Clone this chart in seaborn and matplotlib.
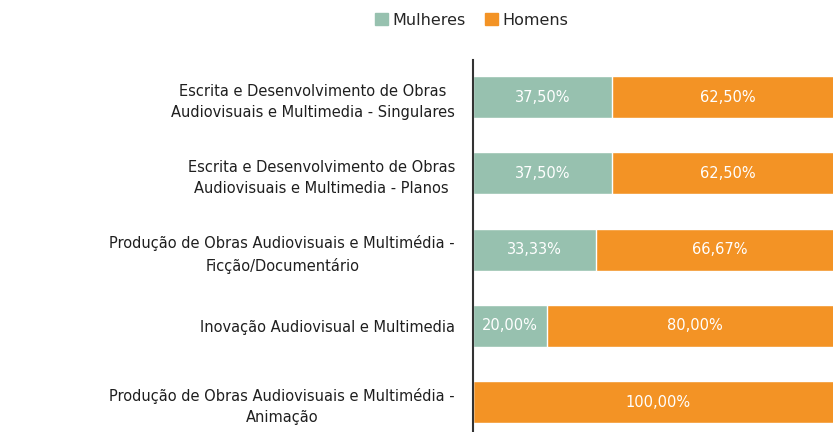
import pandas as pd
import matplotlib.pyplot as plt
import seaborn as sns
from matplotlib.patches import Patch

# ==============================
# Dados
# ==============================
categorias = [
    "Escrita e Desenvolvimento de Obras\nAudiovisuais e Multimedia - Singulares",
    "Escrita e Desenvolvimento de Obras\nAudiovisuais e Multimedia - Planos",
    "Produção de Obras Audiovisuais e Multimédia -\nFicção/Documentário",
    "Inovação Audiovisual e Multimedia",
    "Produção de Obras Audiovisuais e Multimédia -\nAnimação",
]
mulheres = [37.50, 37.50, 33.33, 20.00, 0.00]
homens = [62.50, 62.50, 66.67, 80.00, 100.00]

cor_mulheres = "#97C1AF"
cor_homens = "#F39325"

df = pd.DataFrame({"Categoria": categorias, "Mulheres": mulheres, "Homens": homens})
df["Total"] = df["Mulheres"] + df["Homens"]

sns.set_theme(style="white")
plt.rcParams["font.family"] = ["DejaVu Sans"]

fig = plt.figure(figsize=(8.33, 4.32), dpi=100)
# o eixo passa um pouco da borda direita (como no original)
ax = fig.add_axes([0.568, 0.0, 0.444, 0.861])

# barras empilhadas: total (laranja) por baixo, mulheres por cima
sns.barplot(data=df, y="Categoria", x="Total", color=cor_homens, width=0.55,
            saturation=1, ax=ax, orient="h")
sns.barplot(data=df, y="Categoria", x="Mulheres", color=cor_mulheres, width=0.55,
            saturation=1, ax=ax, orient="h")

def fmt(v):
    return f"{v:.2f}%".replace(".", ",")

for i, (m, h) in enumerate(zip(mulheres, homens)):
    if m > 0:
        ax.text(m / 2, i, fmt(m), ha="center", va="center", color="white", fontsize=10.5)
    if h > 0:
        ax.text(m + h / 2, i, fmt(h), ha="center", va="center", color="white", fontsize=10.5)

ax.set_xlim(0, 100)
ax.set_ylim(4.39, -0.485)
ax.set_xlabel("")
ax.set_ylabel("")
ax.set_xticks([])
ax.tick_params(axis="y", length=0, pad=13, labelsize=10.5, colors="#1f1f1f")
for lbl in ax.get_yticklabels():
    lbl.set_multialignment("center")
    lbl.set_linespacing(1.5)

for s in ["top", "right", "bottom"]:
    ax.spines[s].set_visible(False)
ax.spines["left"].set_color("#333333")
ax.spines["left"].set_linewidth(1.5)

handles = [Patch(color=cor_mulheres, label="Mulheres"), Patch(color=cor_homens, label="Homens")]
fig.legend(handles=handles, loc="center", bbox_to_anchor=(0.566, 0.953), ncol=2,
           frameon=False, fontsize=11.5, handlelength=0.8, handleheight=0.8,
           handletextpad=0.3, columnspacing=1.2)

fig.savefig("out.png", dpi=100)
